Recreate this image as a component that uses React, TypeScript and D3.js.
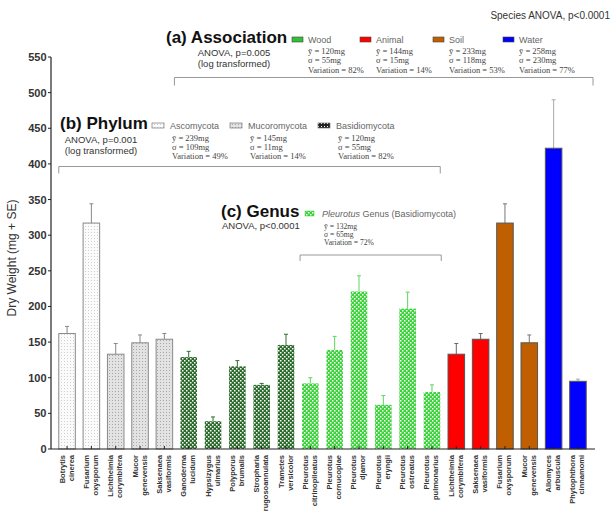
import React from "react";
import * as d3 from "d3";

const genusNames = ["Botrytis","Fusarium","Lichtheimia","Mucor","Saksenaea","Ganoderma","Hypsizygus","Polyporus","Stropharia","Trametes","Pleurotus","Pleurotus","Pleurotus","Pleurotus","Pleurotus","Pleurotus","Lichtheimia","Saksenaea","Fusarium","Mucor","Allomyces","Phytophthora"];
const speciesNames = ["cinerea","oxysporum","corymbifera","genevensis","vasiformis","lucidum","ulmarius","brumalis","rugosoannulata","versicolor","citrinopileatus","cornucopiae","djamor","eryngii","ostreatus","pulmonarius","corymbifera","vasiformis","oxysporum","genevensis","arbuscula","cinnamomi"];
const groups = ["asc","asc","muc","muc","muc","bas","bas","bas","bas","bas","pleu","pleu","pleu","pleu","pleu","pleu","animal","animal","soil","soil","water","water"];
const means = [162,317,133,149,154,129,39,116,90,146,92,139,221,62,197,80,133,154,317,149,422,95];
const errors = [10,27,15,11,8,8,6,8,2,15,8,19,22,13,23,10,15,8,27,11,68,3];
const yTicks = [0,50,100,150,200,250,300,350,400,450,500,550];

const assocNames = ["Wood","Animal","Soil","Water"];
const assocMean = ["120mg","144mg","233mg","258mg"];
const assocSD = ["55mg","15mg","118mg","230mg"];
const assocVar = ["82%","14%","53%","77%"];

const phylumNames = ["Ascomycota","Mucoromycota","Basidiomycota"];
const phylumMean = ["239mg","145mg","120mg"];
const phylumSD = ["109mg","11mg","55mg"];
const phylumVar = ["49%","14%","82%"];

const genusMean = "132mg";
const genusSD = "65mg";
const genusVar = "72%";

const fillFor: Record<string, string> = {
  asc: "url(#pAsc)", muc: "url(#pMuc)", bas: "url(#pBas)", pleu: "url(#pPleu)",
  animal: "#ff0000", soil: "#c05f00", water: "#0000ff",
};
const strokeFor: Record<string, string> = {
  asc: "#8a8a8a", muc: "#8a8a8a", bas: "none", pleu: "none",
  animal: "#555", soil: "#555", water: "#555",
};
const errFor: Record<string, string> = {
  asc: "#888", muc: "#888", bas: "#2f6e2f", pleu: "#5cd65c",
  animal: "#666", soil: "#777", water: "#aaa",
};
const assocSwatch = ["#33c033", "#ff0000", "#c05f00", "#0000ff"];

const SANS = "Liberation Sans, Arial, sans-serif";
const SERIF = "Liberation Serif, Times New Roman, serif";

export default function App() {
  const x = d3.scaleBand<number>().domain(d3.range(means.length)).range([51, 594]).paddingInner(0.32).paddingOuter(0.32);
  const y = d3.scaleLinear().domain([0, 550]).range([449, 57]);
  const bw = x.bandwidth();
  const bl = (i: number) => x(i) as number;

  const assocX = [292, 360, 433, 503];
  const phylX = [152, 230, 318];

  const bracket = (x1: number, x2: number, yy: number, h: number) =>
    `M${x1},${yy + h}V${yy}H${x2}V${yy + h}`;

  const stats = (tx: number, ty: number, m: string, s: string, v: string, gap = 9.5, fs = 8.5) => (
    <g fontFamily={SERIF} fontSize={fs} fill="#444">
      <text x={tx} y={ty}>ȳ = {m}</text>
      <text x={tx} y={ty + gap}>σ = {s}</text>
      <text x={tx} y={ty + 2 * gap}>Variation = {v}</text>
    </g>
  );

  return (
    <svg width={612} height={515} style={{ position: "absolute", left: 0, top: 0, background: "#fff" }}>
      <defs>
        <pattern id="pAsc" width={3} height={3} patternUnits="userSpaceOnUse">
          <rect width={3} height={3} fill="#fbfbfb" />
          <rect x={1} y={1} width={1} height={1} fill="#cfcfcf" />
        </pattern>
        <pattern id="pMuc" width={3} height={3} patternUnits="userSpaceOnUse">
          <rect width={3} height={3} fill="#e2e2e2" />
          <rect x={1} y={1} width={1} height={1} fill="#a8a8a8" />
        </pattern>
        <pattern id="pBas" width={4} height={4} patternUnits="userSpaceOnUse">
          <rect width={4} height={4} fill="#2a6a2a" />
          <rect x={0} y={0} width={1.5} height={1.5} fill="#ffffff" />
          <rect x={2} y={2} width={1.5} height={1.5} fill="#ffffff" />
        </pattern>
        <pattern id="pPleu" width={4} height={4} patternUnits="userSpaceOnUse">
          <rect width={4} height={4} fill="#3cd23c" />
          <rect x={0} y={0} width={1.5} height={1.5} fill="#ffffff" />
          <rect x={2} y={2} width={1.5} height={1.5} fill="#ffffff" />
        </pattern>
        <pattern id="pBasLeg" width={3} height={3} patternUnits="userSpaceOnUse">
          <rect width={3} height={3} fill="#222" />
          <rect x={0} y={0} width={1} height={1} fill="#fff" />
        </pattern>
      </defs>

      {/* Y axis */}
      <line x1={51} x2={51} y1={y(550)} y2={y(0)} stroke="#222" strokeWidth={1.2} />
      {yTicks.map((t) => (
        <g key={t}>
          <line x1={48} x2={51} y1={y(t)} y2={y(t)} stroke="#222" />
          <text x={46.5} y={y(t) + 4} textAnchor="end" fontFamily={SANS} fontWeight="bold" fontSize={11} fill="#333">{t}</text>
        </g>
      ))}
      <text transform={`translate(16,${258}) rotate(-90)`} textAnchor="middle" fontFamily={SANS} fontSize={12} fill="#333">Dry Weight (mg + SE)</text>

      {/* Bars */}
      {means.map((m, i) => {
        const g = groups[i];
        const cx = bl(i) + bw / 2;
        return (
          <g key={i}>
            <line x1={cx} x2={cx} y1={y(m)} y2={y(m + errors[i])} stroke={errFor[g]} strokeWidth={1} />
            <line x1={cx - 2} x2={cx + 2} y1={y(m + errors[i])} y2={y(m + errors[i])} stroke={errFor[g]} strokeWidth={1} />
            <rect x={bl(i)} y={y(m)} width={bw} height={y(0) - y(m)} fill={fillFor[g]} stroke={strokeFor[g]} strokeWidth={1} />
            <line x1={cx} x2={cx} y1={y(0)} y2={y(0) - 3} stroke="#222" />
          </g>
        );
      })}
      <line x1={51} x2={595} y1={y(0)} y2={y(0)} stroke="#222" strokeWidth={1.2} />

      {/* X labels */}
      {means.map((_, i) => {
        const cx = bl(i) + bw / 2;
        return (
          <g key={i} transform={`translate(${cx},455) rotate(-90)`} fontFamily={SANS} fontSize={7.5} fontWeight={600} fill="#333" textAnchor="end">
            <text x={0} y={-2.5}>{genusNames[i]}</text>
            <text x={0} y={6.5}>{speciesNames[i]}</text>
          </g>
        );
      })}

      {/* Brackets */}
      <path d={bracket(bl(5) - 6, 593, 77.5, 8)} fill="none" stroke="#999" strokeWidth={1} />
      <path d={bracket(bl(0), bl(15) + bw, 166.5, 7)} fill="none" stroke="#999" strokeWidth={1} />
      <path d={bracket(bl(10) - 2, bl(15) + bw + 1, 255, 6)} fill="none" stroke="#999" strokeWidth={1} />

      {/* Species ANOVA */}
      <text x={610} y={19} textAnchor="end" fontFamily={SANS} fontSize={10} fill="#333">Species ANOVA, p&lt;0.0001</text>

      {/* (a) Association */}
      <text x={166} y={43} fontFamily={SANS} fontWeight="bold" fontSize={17} fill="#111">(a) Association</text>
      <text x={234} y={56} textAnchor="middle" fontFamily={SANS} fontSize={9.5} fill="#333">ANOVA, p=0.005</text>
      <text x={234} y={67} textAnchor="middle" fontFamily={SANS} fontSize={9.5} fill="#333">(log transformed)</text>
      {assocNames.map((n, i) => {
        const sx = assocX[i];
        return (
          <g key={n}>
            <rect x={sx} y={37} width={11} height={5} fill={assocSwatch[i]} stroke="#444" strokeWidth={0.6} />
            <text x={sx + 16} y={43} fontFamily={SANS} fontSize={9} fill="#666">{n}</text>
            {stats(sx + 16, 54, assocMean[i], assocSD[i], assocVar[i], 9.3)}
          </g>
        );
      })}

      {/* (b) Phylum */}
      <text x={60} y={129} fontFamily={SANS} fontWeight="bold" fontSize={17} fill="#111">(b) Phylum</text>
      <text x={101} y={143} textAnchor="middle" fontFamily={SANS} fontSize={9.5} fill="#333">ANOVA, p=0.001</text>
      <text x={101} y={154} textAnchor="middle" fontFamily={SANS} fontSize={9.5} fill="#333">(log transformed)</text>
      {phylumNames.map((n, i) => {
        const sx = phylX[i];
        const f = ["url(#pAsc)", "url(#pMuc)", "url(#pBasLeg)"][i];
        return (
          <g key={n}>
            <rect x={sx} y={123} width={12} height={5} fill={f} stroke="#777" strokeWidth={0.7} />
            <text x={sx + 18} y={129} fontFamily={SANS} fontSize={9} fill="#666">{n}</text>
            {stats(sx + 20, 141, phylumMean[i], phylumSD[i], phylumVar[i], 9)}
          </g>
        );
      })}

      {/* (c) Genus */}
      <text x={221} y={217} fontFamily={SANS} fontWeight="bold" fontSize={17} fill="#111">(c) Genus</text>
      <text x={222} y={229} fontFamily={SANS} fontSize={9.5} fill="#333">ANOVA, p&lt;0.0001</text>
      <rect x={305} y={211} width={9} height={5} fill="url(#pPleu)" stroke="#3cd23c" strokeWidth={0.5} />
      <text x={322} y={217} fontFamily={SANS} fontSize={9} fill="#666"><tspan fontStyle="italic">Pleurotus</tspan> Genus (Basidiomycota)</text>
      {stats(324, 229, genusMean, genusSD, genusVar, 8.2, 7.6)}
    </svg>
  );
}
